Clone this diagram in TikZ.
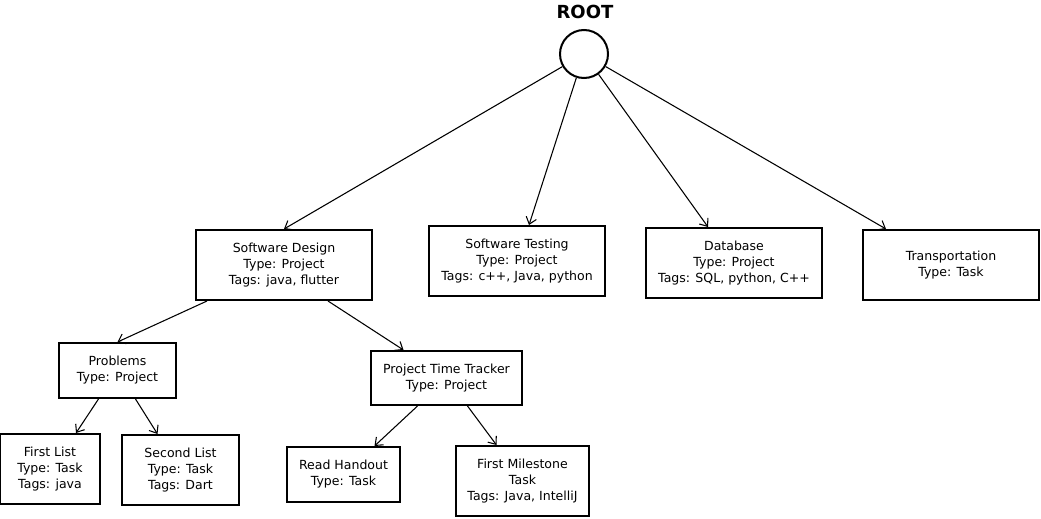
\documentclass[tikz,border=0pt]{standalone}
\usepackage{fontspec}
\setmainfont{DejaVu Sans}
\usepackage{tikz}
\usetikzlibrary{arrows.meta}
\tikzset{
    item-box/.style = {draw=black, fill=white, line width=1.5pt, rectangle, inner sep=0pt, align=center, font=\fontsize{9.4}{12}\selectfont},
    root-circle/.style = {draw=black, line width=1.5pt, circle, minimum size=36pt, inner sep=0pt},
    root-title/.style = {font=\fontsize{13.5}{16}\selectfont\bfseries},
    link/.style = {draw=black, line width=0.8pt, -{Straight Barb[length=5pt,width=8pt]}},
}
\begin{document}
\begin{tikzpicture}[x=0.75pt, y=-0.75pt]
\useasboundingbox (0,0) rectangle (1041,518);
% root
\node [root-circle] (root) at (584,54) {};
\node [root-title] (root-label) at (585,12) {ROOT};
% first level
\node [item-box, minimum width=132pt, minimum height=52.5pt] (design) at (284,265) {Software Design\\Type: Project\\Tags: java, flutter};
\node [item-box, minimum width=132pt, minimum height=52.5pt] (testing) at (517,261) {Software Testing\\Type: Project\\Tags: c++, Java, python};
\node [item-box, minimum width=132pt, minimum height=52.5pt] (database) at (734,263) {Database\\Type: Project\\Tags: SQL, python, C++};
\node [item-box, minimum width=132pt, minimum height=52.5pt] (transport) at (951,265) {Transportation\\Type: Task};
% second level
\node [item-box, minimum width=87.75pt, minimum height=41.25pt] (problems) at (117.5,370.5) {Problems\\Type: Project};
\node [item-box, minimum width=113.25pt, minimum height=40.5pt] (tracker) at (446.5,378) {Project Time Tracker\\Type: Project};
% third level
\node [item-box, minimum width=75pt, minimum height=52.5pt] (first-list) at (50,469) {First List\\Type: Task\\Tags: java};
\node [item-box, minimum width=87.75pt, minimum height=52.5pt] (second-list) at (180.5,470) {Second List\\Type: Task\\Tags: Dart};
\node [item-box, minimum width=84.75pt, minimum height=41.25pt] (handout) at (343.5,474.5) {Read Handout\\Type: Task};
\node [item-box, minimum width=99.75pt, minimum height=52.5pt] (milestone) at (522.5,481) {First Milestone\\Task\\Tags: Java, IntelliJ};
% connectors
\draw [link] (root) -- (design.north);
\draw [link] (root) -- ([xshift=9pt]testing.north);
\draw [link] (root) -- ([xshift=-19.5pt]database.north);
\draw [link] (root) -- ([xshift=-48.75pt]transport.north);
\draw [link] ([xshift=9pt]design.south west) -- (problems.north);
\draw [link] ([xshift=33pt]design.south) -- ([xshift=-32.25pt]tracker.north);
\draw [link] ([xshift=-14.25pt]problems.south) -- ([xshift=19.5pt]first-list.north);
\draw [link] ([xshift=13.5pt]problems.south) -- ([xshift=-17.25pt]second-list.north);
\draw [link] ([xshift=-21.75pt]tracker.south) -- ([xshift=23.25pt]handout.north);
\draw [link] ([xshift=15.75pt]tracker.south) -- ([xshift=-19.5pt]milestone.north);
\end{tikzpicture}
\end{document}
